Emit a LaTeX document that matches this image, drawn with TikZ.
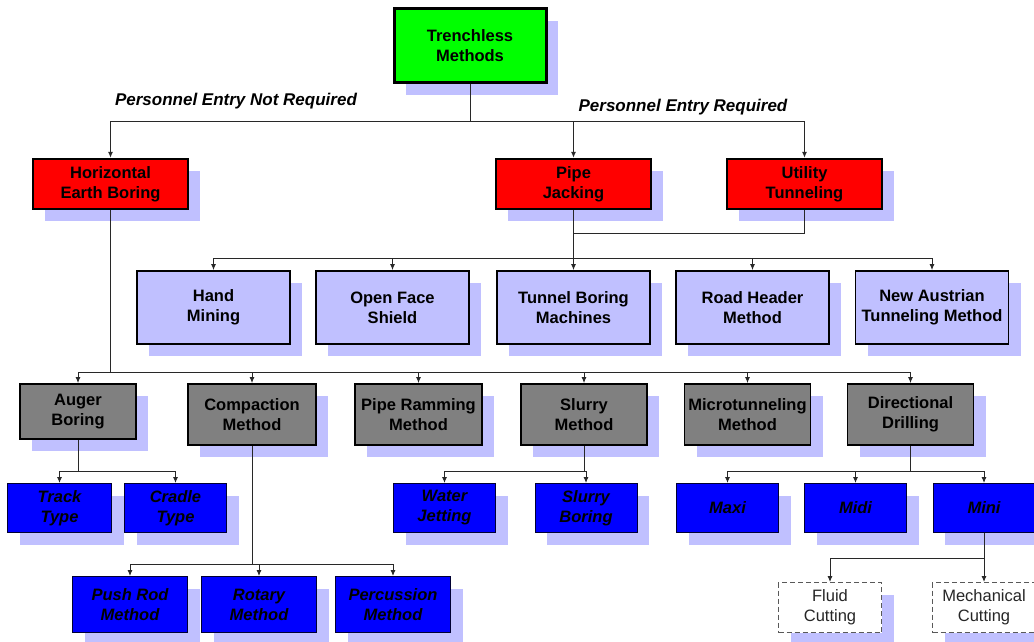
\documentclass[tikz,border=0pt]{standalone}
\usepackage{fontspec}
\setmainfont{Liberation Sans}
\usetikzlibrary{arrows.meta,shadows}
\definecolor{shade}{RGB}{192,192,255}
\definecolor{linec}{RGB}{40,40,40}

\tikzset{
  base/.style={rectangle, align=center, inner sep=0pt,
    font=\bfseries\fontsize{16.5}{20}\selectfont,
    drop shadow={shadow xshift=12pt, shadow yshift=-12pt, fill=shade, opacity=1}},
  topbox/.style={base, draw=black, line width=3pt, fill=green,
    minimum width=152pt, minimum height=74pt},
  redbox/.style={base, draw=black, line width=2.5pt, fill=red,
    minimum width=155pt, minimum height=50pt},
  lavbox/.style={base, draw=black, line width=1.8pt, fill=shade,
    minimum width=153pt, minimum height=73pt},
  graybox/.style={base, draw=black, line width=1.8pt, fill=gray,
    minimum height=61pt},
  bluebox/.style={base, draw=black!80!blue, line width=1pt, fill=blue,
    font=\bfseries\itshape\fontsize{16.5}{20}\selectfont,
    minimum width=102pt, minimum height=49pt},
  cutbox/.style={base, draw=black!65, dash pattern=on 5pt off 3pt,
    line width=1pt, fill=white, text=black!85,
    font=\fontsize{16.5}{20}\selectfont,
    minimum width=103pt, minimum height=50pt},
  link/.style={draw=linec, line width=0.9pt},
  arr/.style={link, -{Latex[length=6pt,width=5pt]}},
  note/.style={inner sep=0pt, font=\bfseries\itshape\fontsize{17}{20}\selectfont}
}

\begin{document}
\begin{tikzpicture}[x=1pt, y=-1pt]
\useasboundingbox (0,0) rectangle (1034,642);

% root
\node[topbox] (tm) at (470,46) {Trenchless\\Methods};

% first level
\node[redbox] (heb) at (110.5,184) {Horizontal\\Earth Boring};
\node[redbox] (pj)  at (573.5,184) {Pipe\\Jacking};
\node[redbox] (ut)  at (804.5,184) {Utility\\Tunneling};

\node[note] (lab1) at (236,101) {Personnel Entry Not Required};
\node[note] (lab2) at (683,107) {Personnel Entry Required};

% personnel entry methods
\node[lavbox] (hm)  at (213.5,307.5) {Hand\\Mining};
\node[lavbox] (ofs) at (392.5,307.5) {Open Face\\Shield};
\node[lavbox] (tbm) at (573.5,307.5) {Tunnel Boring\\Machines};
\node[lavbox] (rh)  at (752.5,307.5) {Road Header\\Method};
\node[lavbox] (nat) at (932,307.5)   {New Austrian\\Tunneling Method};

% horizontal earth boring methods
\node[graybox, minimum width=116pt, minimum height=55pt] (ab) at (78,411.5) {Auger\\Boring};
\node[graybox, minimum width=128pt] (cm)  at (252,414.5)   {Compaction\\Method};
\node[graybox, minimum width=127pt] (prm) at (418.5,414.5) {Pipe Ramming\\Method};
\node[graybox, minimum width=126pt] (sm)  at (584,414.5)   {Slurry\\Method};
\node[graybox, minimum width=126pt] (mt)  at (747.5,414.5) {Microtunneling\\Method};
\node[graybox, minimum width=126pt] (dd)  at (910.5,414.5) {Directional\\Drilling};

% sub-methods
\node[bluebox, minimum width=104pt] (tt) at (59.5,508) {Track\\Type};
\node[bluebox] (ct)   at (175.5,508) {Cradle\\Type};
\node[bluebox] (wj)   at (444.5,508) {Water\\Jetting};
\node[bluebox] (sb)   at (586,508)   {Slurry\\Boring};
\node[bluebox] (maxi) at (727.5,508) {Maxi};
\node[bluebox] (midi) at (855.5,508) {Midi};
\node[bluebox] (mini) at (984,508)   {Mini};

\node[bluebox, minimum width=115pt, minimum height=56pt] (pr)   at (130,604.5) {Push Rod\\Method};
\node[bluebox, minimum width=115pt, minimum height=56pt] (rot)  at (259,604.5) {Rotary\\Method};
\node[bluebox, minimum width=115pt, minimum height=56pt] (perc) at (393,604.5) {Percussion\\Method};

\node[cutbox] (fc) at (830,607.5) {Fluid\\Cutting};
\node[cutbox] (mc) at (984,607.5) {Mechanical\\Cutting};

% junction points
\coordinate (r1) at (470,121);
\coordinate (r2) at (573.5,233);
\coordinate (r3) at (573.5,258);
\coordinate (r4) at (110.5,372);
\coordinate (r5) at (78,471);
\coordinate (r6) at (252,564);
\coordinate (r7) at (584,471);
\coordinate (r8) at (910.5,471);
\coordinate (r9) at (984,558);

% connectors
\draw[link] (tm.south) -- (r1);
\draw[arr] (r1) -| (heb.north);
\draw[arr] (r1) -| (pj.north);
\draw[arr] (r1) -| (ut.north);

\draw[link] (ut.south) |- (r2);
\draw[link] (pj.south) -- (r3);
\foreach \n in {hm,ofs,tbm,rh,nat} \draw[arr] (r3) -| (\n.north);

\draw[link] (heb.south) -- (r4);
\foreach \n in {ab,cm,prm,sm,mt,dd} \draw[arr] (r4) -| (\n.north);

\draw[link] (ab.south) -- (r5);
\foreach \n in {tt,ct} \draw[arr] (r5) -| (\n.north);

\draw[link] (cm.south) -- (r6);
\foreach \n in {pr,rot,perc} \draw[arr] (r6) -| (\n.north);

\draw[link] (sm.south) -- (r7);
\foreach \n in {wj,sb} \draw[arr] (r7) -| (\n.north);

\draw[link] (dd.south) -- (r8);
\foreach \n in {maxi,midi,mini} \draw[arr] (r8) -| (\n.north);

\draw[link] (mini.south) -- (r9);
\foreach \n in {fc,mc} \draw[arr] (r9) -| (\n.north);
\end{tikzpicture}
\end{document}
